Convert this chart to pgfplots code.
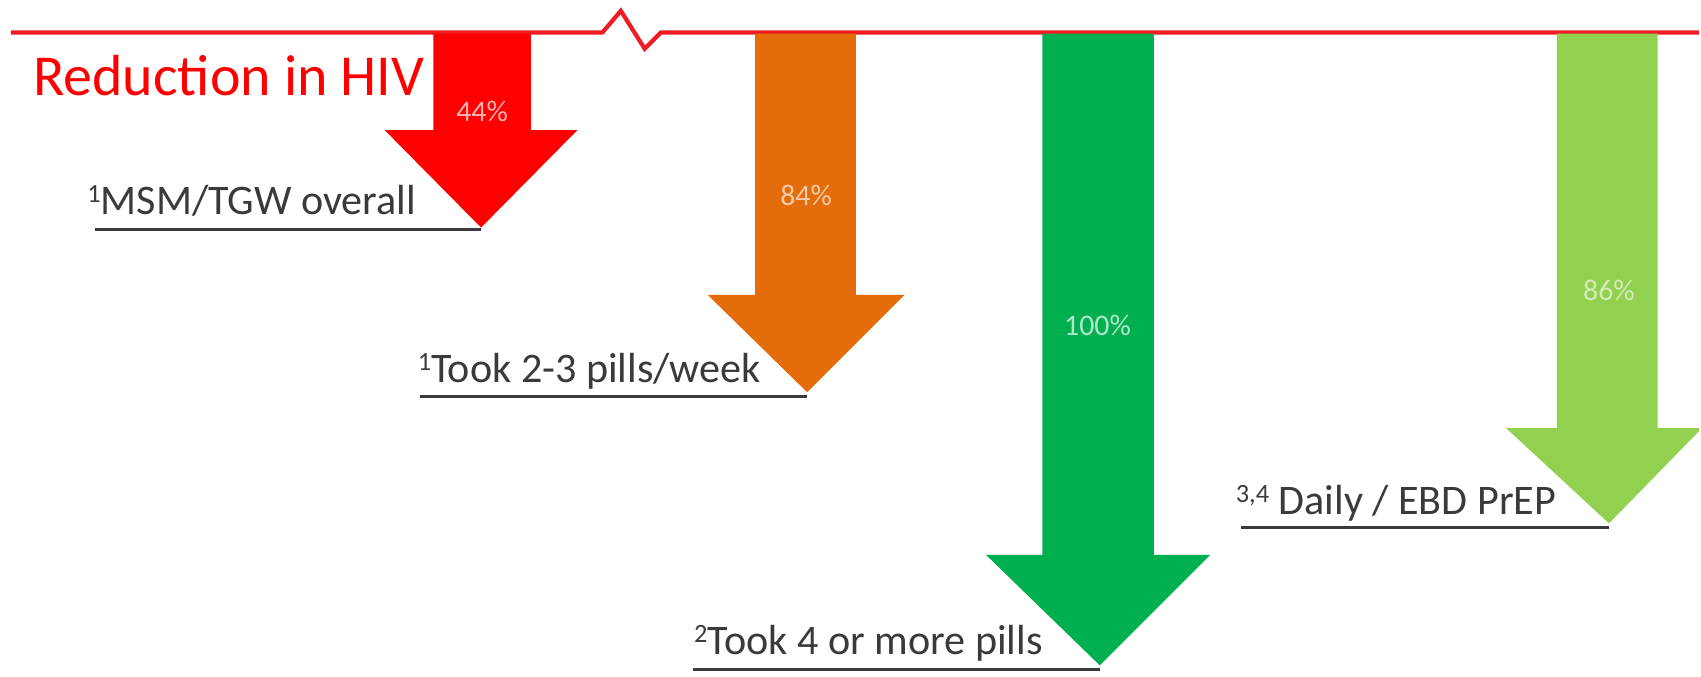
\documentclass[border=0pt]{standalone}
\usepackage{pgfplots}
\pgfplotsset{compat=1.18}
\usepackage{fontspec}
\setmainfont{Carlito}
\definecolor{cRed}{HTML}{FF0000}
\definecolor{cLine}{HTML}{EE1C25}
\definecolor{cOrange}{HTML}{E46C0A}
\definecolor{cGreen}{HTML}{00B050}
\definecolor{cLight}{HTML}{92D050}
\definecolor{cText}{HTML}{3A3A3A}
\newcommand\sups[1]{\raisebox{3.4pt}{\fontsize{7.5}{8}\selectfont #1}}
\begin{document}
\begin{tikzpicture}
\begin{axis}[
  scale only axis, width=17.01cm, height=6.77cm,
  xmin=0, xmax=1568, ymin=0, ymax=624, y dir=reverse,
  hide axis, clip=false,
]
\path (rel axis cs:0,0) rectangle (rel axis cs:1,1);
% baseline with break
\addplot[cLine, line width=1.2pt] coordinates {(10,30) (556,30) (573,10) (595,45) (610,30) (1568,30)};
% arrows (depths in drawing units)
\addplot[fill=cRed, draw=none] coordinates {(400,31) (490,31) (490,120) (533,120) (444,210) (355,120) (400,120)} --cycle;
\addplot[fill=cOrange, draw=none] coordinates {(697,31) (790,31) (790,272) (835,272) (745,362) (653,272) (697,272)} --cycle;
\addplot[fill=cGreen, draw=none] coordinates {(962,31) (1065,31) (1065,512) (1117,512) (1015,614) (910,512) (962,512)} --cycle;
\addplot[fill=cLight, draw=none] coordinates {(1437,31) (1530,31) (1530,395) (1568,395) (1568,398) (1485,483) (1390,395) (1437,395)} --cycle;
% underlines
\addplot[cText, line width=0.9pt] coordinates {(88,212) (444,212)};
\addplot[cText, line width=0.9pt] coordinates {(388,366) (745,366)};
\addplot[cText, line width=0.9pt] coordinates {(640,618) (1015,618)};
\addplot[cText, line width=0.9pt] coordinates {(1145,487) (1485,487)};
% texts
\node[anchor=west, text=cRed, font=\fontsize{16.5}{18}\selectfont, inner sep=0pt] at (axis cs:30,70) {Reduction in HIV};
\node[text=white!70!cRed, font=\fontsize{8.5}{10}\selectfont] at (axis cs:445,103) {44\%};
\node[text=white!65!cOrange, font=\fontsize{8.5}{10}\selectfont] at (axis cs:744,180) {84\%};
\node[text=white!70!cGreen, font=\fontsize{8.5}{10}\selectfont] at (axis cs:1013,300) {100\%};
\node[text=white!60!cLight, font=\fontsize{8.5}{10}\selectfont] at (axis cs:1485,268) {86\%};
\node[anchor=base west, text=cText, font=\fontsize{12}{14}\selectfont, inner sep=0pt] at (axis cs:80,198) {\sups{1}MSM/TGW overall};
\node[anchor=base west, text=cText, font=\fontsize{12}{14}\selectfont, inner sep=0pt] at (axis cs:385,353) {\sups{1}Took 2-3 pills/week};
\node[anchor=base west, text=cText, font=\fontsize{12}{14}\selectfont, inner sep=0pt] at (axis cs:640,604) {\sups{2}Took 4 or more pills};
\node[anchor=base west, text=cText, font=\fontsize{12}{14}\selectfont, inner sep=0pt] at (axis cs:1140,475) {\sups{3,4} Daily / EBD PrEP};
\end{axis}
\end{tikzpicture}
\end{document}
